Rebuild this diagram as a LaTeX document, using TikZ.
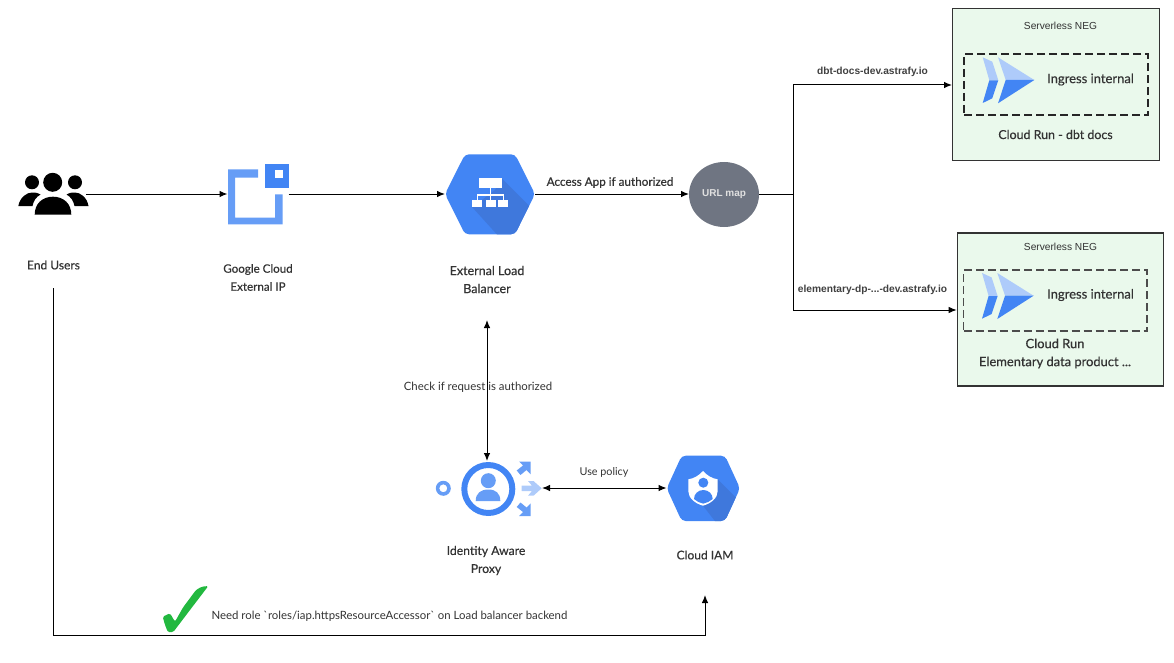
\documentclass[tikz,border=0pt]{standalone}
\usepackage{fontspec}
\setmainfont{Liberation Sans}
\newfontfamily\hand{Lato}
\newfontfamily\handb{Lato}[FakeBold=0.5]
\usetikzlibrary{arrows.meta,shapes.geometric}
\definecolor{gblue}{HTML}{4285F4}
\definecolor{glight}{HTML}{669DF6}
\definecolor{gpale}{HTML}{AECBFA}
\definecolor{gshade}{HTML}{3F78DC}
\definecolor{negfill}{HTML}{EAF9EC}
\definecolor{inktext}{HTML}{333333}
\definecolor{urlgrey}{HTML}{6F7582}
\definecolor{okgreen}{HTML}{22B83F}
\tikzset{
  hlabel/.style={font=\handb\fontsize{12}{18}\selectfont,text=inktext,align=center,inner sep=0pt},
  llabel/.style={font=\hand\fontsize{11.4}{18}\selectfont,text=inktext,align=center,inner sep=0pt},
  slabel/.style={font=\fontsize{10.2}{12}\selectfont,text=inktext,align=center,inner sep=0pt},
  elabel/.style={font=\bfseries\fontsize{10.2}{12}\selectfont,text=black!75,align=center,inner sep=0pt},
  anchorbox/.style={inner sep=0pt,outer sep=0pt},
  link/.style={draw=black,line width=1pt,-{Latex[length=8pt,width=6.5pt]}},
  dlink/.style={draw=black,line width=1pt,{Latex[length=8pt,width=6.5pt]}-{Latex[length=8pt,width=6.5pt]}},
  negbox/.style={draw=inktext,fill=negfill,line width=1.1pt,inner sep=0pt},
  ingressbox/.style={draw=black!85,line width=1.3pt,dash pattern=on 8pt off 4pt},
}
\newcommand{\cloudrunicon}[2]{%
  \begin{scope}[shift={(#1,#2)}]
    \fill[gpale] (982.7,57.3)--(992.3,61.7)--(998.3,80.3)--(989.3,80.3)--cycle;
    \fill[gblue] (989.3,80.3)--(998.3,80.3)--(992.3,98.3)--(982.7,103)--cycle;
    \fill[gpale] (998,57.3)--(1034.3,80)--(1005.7,80)--cycle;
    \fill[gblue] (1005.7,80)--(1034.3,80)--(998,103.3)--cycle;
  \end{scope}}
\begin{document}
\begin{tikzpicture}[x=1pt,y=-1pt]
\useasboundingbox (0,0) rectangle (1174,663);
% anchor nodes
\node[anchorbox,minimum width=69pt,minimum height=40pt] (users) at (53,194) {};
\node[anchorbox,minimum width=61pt,minimum height=60pt] (ip) at (258,194) {};
\node[anchorbox,minimum width=90pt,minimum height=80pt] (lb) at (490,194) {};
\node[ellipse,fill=urlgrey,anchorbox,minimum width=70pt,minimum height=65pt] (url) at (724,194.5) {};
\node[anchorbox,minimum width=100pt,minimum height=54pt] (iap) at (492,488.5) {};
\node[anchorbox,minimum width=73.5pt,minimum height=66pt] (iam) at (703.3,488.5) {};
\coordinate (usersout) at (53,288);
\coordinate (iamin) at (705,595);
\coordinate (lbin) at (487,320);
\coordinate (iapin) at (487,461);
\coordinate (branch) at (793,194);
% boxes
\node[negbox,minimum width=206.5pt,minimum height=152.5pt] (neg1) at (1055.8,84.7) {};
\node[negbox,minimum width=206pt,minimum height=153pt] (neg2) at (1060.2,309.5) {};
\node[ingressbox,minimum width=184pt,minimum height=61pt,anchorbox] (ing1) at (1056,84.5) {};
\node[ingressbox,draw=black!70,minimum width=183.5pt,minimum height=61pt,anchorbox] (ing2) at (1055.3,300.5) {};
% users icon
\fill[black] (52.7,182.3) circle (9.5) (32,182.3) circle (7) (75,182.3) circle (7);
\fill[black] (34.7,214.7) .. controls (34.7,204) and (42,196.7) .. (53,196.7) .. controls (64,196.7) and (71.3,204) .. (71.3,214.7) -- cycle;
\fill[black] (18.3,206) .. controls (20,197) and (27,192.5) .. (32,192.5) .. controls (36,192.5) and (38.5,193) .. (40.5,194.5) .. controls (36,197) and (33.5,201) .. (32.5,206) -- cycle;
\fill[black] (88.5,206) .. controls (87,197) and (80,192.5) .. (75,192.5) .. controls (71,192.5) and (68.5,193) .. (66.5,194.5) .. controls (71,197) and (73.5,201) .. (74.5,206) -- cycle;
% IP icon
\fill[glight] (228,169.5)--(258,169.5)--(258,177.7)--(235,177.7)--(235,217.7)--(275,217.7)--(275,194.3)--(282.7,194.3)--(282.7,224.3)--(228,224.3)--cycle;
\fill[gblue] (264.7,164) rectangle (288.7,188.3);
\fill[white] (275,170) rectangle (282.7,178);
% LB hexagon
\begin{scope}
  \clip[rounded corners=4pt] (445,194)--(465,154.3)--(515,154.3)--(535,194)--(515,234.3)--(465,234.3)--cycle;
  \fill[gblue] (440,150) rectangle (540,240);
  \fill[gshade] (501.7,178.3)--(540,216.6)--(540,240)--(502,240)--(472.3,207.3)--(495,190)--cycle;
\end{scope}
\fill[white] (479.3,178.3) rectangle (501.7,187.7);
\fill[white] (489.7,187.7) rectangle (491.3,200);
\fill[white] (476.5,194.2) rectangle (504,195.8);
\fill[white] (476.5,194.2) rectangle (478,200);
\fill[white] (502.5,194.2) rectangle (504,200);
\fill[white] (472.3,200) rectangle (482.3,207.3);
\fill[white] (485.7,200) rectangle (495.7,207.3);
\fill[white] (498.3,200) rectangle (508.3,207.3);
% Cloud run
\cloudrunicon{0}{0}
\cloudrunicon{-0.7}{215.7}
% IAP icon
\fill[glight,even odd rule] (443.3,488.3) circle (7.5) (443.3,488.3) circle (4);
\fill[gblue,even odd rule] (488.3,489) circle (27) (488.3,489) circle (21);
\fill[glight] (488.3,480.7) circle (7.5);
\fill[glight] (475.7,501) .. controls (475.7,493) and (481,489.5) .. (488.3,489.5) .. controls (495.6,489.5) and (500.3,493) .. (500.3,501) -- cycle;
\fill[gpale] (521.7,485.7)--(532,485.7)--(528,481)--(533.5,481)--(541.7,488.3)--(533.5,495.7)--(528,495.7)--(532,491)--(521.7,491)--cycle;
\fill[glight] (519,461.5)--(530.7,461.5)--(530.7,474.3)--(526.5,470)--(520.5,475)--(516.7,470.5)--(523,465.5)--cycle;
\fill[glight] (519,516)--(530.7,516)--(530.7,503.3)--(526.5,507.5)--(520.5,502.5)--(516.7,507)--(523,512)--cycle;
% IAM hexagon
\begin{scope}
  \clip[rounded corners=4pt] (666.7,488.3)--(681.7,455.7)--(725,455.7)--(740,488.3)--(725,521)--(681.7,521)--cycle;
  \fill[gblue] (660,450) rectangle (745,525);
  \fill[gshade] (717.7,479.3)--(745,506.6)--(745,525)--(718,525)--(703,505.7)--cycle;
\end{scope}
\fill[white] (703,471) .. controls (707,475.5) and (712,478.5) .. (717.7,479.3) -- (717.7,491) .. controls (717.7,498) and (711,503.5) .. (703,505.7) .. controls (695,503.5) and (688.3,498) .. (688.3,491) -- (688.3,479.3) .. controls (694,478.5) and (699,475.5) .. (703,471) -- cycle;
\fill[gblue] (703.3,482.7) circle (5);
\fill[gblue] (694,499) .. controls (694,494) and (698,490) .. (703.3,490) .. controls (708.6,490) and (712.7,494) .. (712.7,499) .. controls (710,501.5) and (706.5,503) .. (703.3,503.6) .. controls (700,503) and (696.5,501.5) .. (694,499) -- cycle;
% check mark
\fill[okgreen,rounded corners=1.5pt] (162.7,616.7)--(170,613.3)--(175,621.7)--(183,607.5)--(196,590)--(201.7,586.7)--(208.3,586)--(190,610)--(173.3,632)--(168,632.3)--(165,625)--cycle;
% connectors
\draw[link] ([xshift=-1.5pt]users.east) -- (ip.west);
\draw[link] (288.5,194) -- (lb.west);
\draw[link] (lb.east) -- (url.west |- 0,194);
\draw[draw=black,line width=1pt] (url.east |- 0,194) -- (branch);
\draw[link] (branch) |- (neg1.west |- 0,85);
\draw[link] (branch) |- (neg2.west |- 0,310);
\draw[link] (usersout) |- (705,635) -- (iamin);
\draw[dlink] (lbin) -- (iapin);
\draw[dlink] (542,488) -- (iam.west |- 0,488);
% labels
\node[hlabel] (t1) at (53.5,265) {End Users};
\node[hlabel,font=\handb\fontsize{11.6}{18}\selectfont] (t2) at (258,277.5) {Google Cloud\\External IP};
\node[hlabel,font=\handb\fontsize{12.5}{18}\selectfont] (t3) at (487,279.5) {External Load\\Balancer};
\node[hlabel,font=\handb\fontsize{11.7}{18}\selectfont] (t4) at (610,182.5) {Access App if authorized};
\node[llabel] (t5) at (478,387.5) {Check if request is authorized};
\node[llabel,font=\hand\fontsize{10.8}{18}\selectfont] (t6) at (604,472.5) {Use policy};
\node[hlabel,font=\handb\fontsize{12.2}{18}\selectfont] (t7) at (486,560.5) {Identity Aware\\Proxy};
\node[hlabel] (t8) at (705,555) {Cloud IAM};
\node[llabel] (t9) at (389.5,616.5) {Need role \char96 roles/iap.httpsResourceAccessor\char96\ on Load balancer backend};
\node[hlabel,font=\handb\fontsize{13}{18}\selectfont] (t10) at (1090.5,79.5) {Ingress internal};
\node[hlabel,font=\handb\fontsize{13}{18}\selectfont] (t11) at (1090.5,295) {Ingress internal};
\node[hlabel,font=\handb\fontsize{12.4}{18}\selectfont] (t12) at (1055.5,134.5) {Cloud Run - dbt docs};
\node[hlabel,font=\handb\fontsize{12.9}{18}\selectfont] (t13) at (1055,353.5) {Cloud Run\\Elementary data product ...};
\node[slabel] (t14) at (1060.5,25.5) {Serverless NEG};
\node[slabel] (t15) at (1060.5,246.5) {Serverless NEG};
\node[elabel] (t16) at (872.5,71.5) {dbt-docs-dev.astrafy.io};
\node[elabel] (t17) at (872.5,289.5) {elementary-dp-...-dev.astrafy.io};
\node[elabel,text=white!88!black,font=\bfseries\fontsize{10}{12}\selectfont] (t18) at (724,194.5) {URL map};
\end{tikzpicture}
\end{document}
